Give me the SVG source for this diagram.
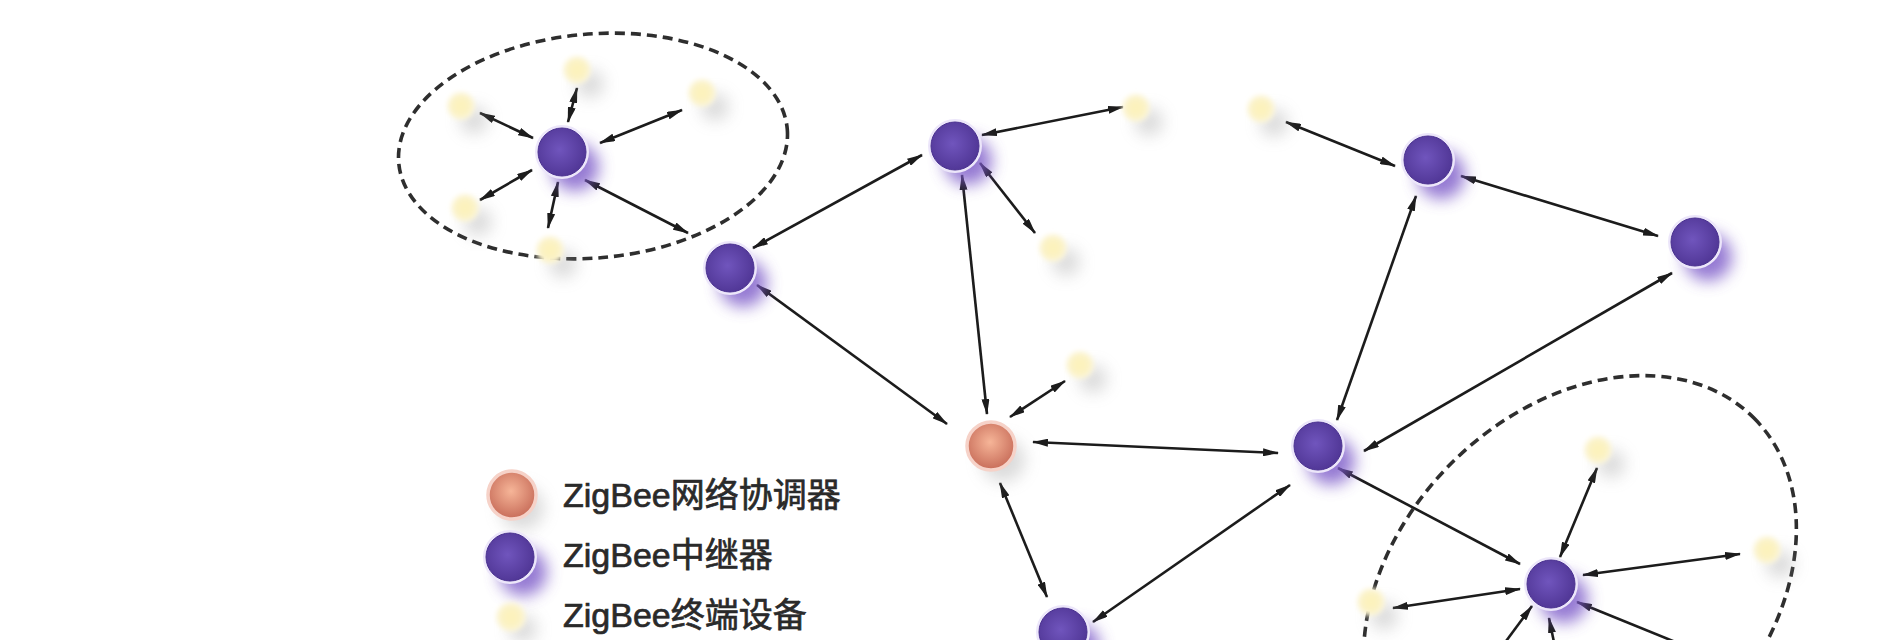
<svg xmlns="http://www.w3.org/2000/svg" width="1884" height="640" viewBox="0 0 1884 640">
<style>
.bg{fill:#ffffff}
.ln{stroke:#1c1c1c;stroke-width:2.6;fill:none;marker-start:url(#ah);marker-end:url(#ah)}
.ln1{stroke:#1c1c1c;stroke-width:2.6;fill:none;marker-start:url(#ah)}
.dash{fill:none;stroke:#2e2e2e;stroke-width:3.6;stroke-dasharray:10 6}
.rsh{fill:#7a58c8;opacity:.8;filter:url(#blur)}
.rhalo{fill:#ece6fa}
.rel{fill:url(#gR);stroke:#4a3190;stroke-width:1}
.esh{fill:#9a9a9a;opacity:.35;filter:url(#blur)}
.end{fill:url(#gE);filter:url(#soft)}
.csh{fill:#9a9a9a;opacity:.35;filter:url(#blur)}
.coo{fill:url(#gC);stroke:#f6d2c8;stroke-width:3.5}
.lbl{font-family:"Liberation Sans","Noto Sans CJK SC",sans-serif;font-size:34px;fill:#2a2a2a;stroke:#2a2a2a;stroke-width:0.7}
</style>
<defs>
<marker id="ah" viewBox="0 0 16 8" refX="15" refY="4" markerWidth="16" markerHeight="8" markerUnits="userSpaceOnUse" orient="auto-start-reverse">
<path d="M0,0 L16,4 L0,8 z" fill="#1c1c1c"/>
</marker>
<filter id="blur" x="-1" y="-1" width="3" height="3"><feGaussianBlur stdDeviation="8"/></filter>
<filter id="soft" x="-1" y="-1" width="3" height="3"><feGaussianBlur stdDeviation="2.5"/></filter>
<radialGradient id="gR" cx="45%" cy="45%" r="60%">
<stop offset="0" stop-color="#7055bd"/><stop offset="1" stop-color="#4f3594"/>
</radialGradient>
<radialGradient id="gE" cx="50%" cy="50%" r="50%">
<stop offset="0" stop-color="#fdf3b8"/><stop offset="0.7" stop-color="#fbf2c6"/><stop offset="1" stop-color="#fdf8e2"/>
</radialGradient>
<radialGradient id="gC" cx="48%" cy="42%" r="60%">
<stop offset="0" stop-color="#f6b598"/><stop offset="1" stop-color="#c66a57"/>
</radialGradient>
</defs>
<rect class="bg" x="0" y="0" width="1884" height="640"/>

<g id="clusters">
<ellipse class="dash" cx="593" cy="146" rx="195" ry="112" transform="rotate(-5 593 146)"/>
<ellipse class="dash" cx="1580" cy="592" rx="246" ry="182" transform="rotate(-45 1580 592)"/>
</g>

<g id="connectors">
<line class="ln" x1="568" y1="122" x2="577" y2="88"/>
<line class="ln" x1="600" y1="143" x2="682" y2="110"/>
<line class="ln" x1="533" y1="138" x2="480" y2="113"/>
<line class="ln" x1="532" y1="170" x2="480" y2="200"/>
<line class="ln" x1="558" y1="182" x2="548" y2="228"/>
<line class="ln" x1="585" y1="180" x2="688" y2="233"/>
<line class="ln" x1="753" y1="248" x2="922" y2="155"/>
<line class="ln" x1="982" y1="135" x2="1123" y2="107"/>
<line class="ln" x1="980" y1="163" x2="1035" y2="233"/>
<line class="ln" x1="962" y1="175" x2="987" y2="414"/>
<line class="ln" x1="757" y1="285" x2="947" y2="424"/>
<line class="ln" x1="1010" y1="417" x2="1065" y2="381"/>
<line class="ln" x1="1033" y1="442" x2="1278" y2="453"/>
<line class="ln" x1="1000" y1="483" x2="1047" y2="597"/>
<line class="ln" x1="1093" y1="622" x2="1290" y2="485"/>
<line class="ln" x1="1286" y1="122" x2="1395" y2="166"/>
<line class="ln" x1="1461" y1="176" x2="1658" y2="236"/>
<line class="ln" x1="1416" y1="196" x2="1337" y2="420"/>
<line class="ln" x1="1672" y1="273" x2="1364" y2="451"/>
<line class="ln" x1="1338" y1="468" x2="1520" y2="564"/>
<line class="ln" x1="1560" y1="557" x2="1597" y2="468"/>
<line class="ln" x1="1583" y1="575" x2="1740" y2="554"/>
<line class="ln" x1="1520" y1="589" x2="1393" y2="608"/>
<line class="ln1" x1="1532" y1="606" x2="1498" y2="652"/>
<line class="ln1" x1="1549" y1="618" x2="1556" y2="652"/>
<line class="ln1" x1="1577" y1="602" x2="1700" y2="652"/>
</g>

<g id="end-devices">
<g id="e1a"><circle class="esh" cx="590" cy="84" r="14"/><circle class="end" cx="577" cy="70" r="14"/></g>
<g id="e1b"><circle class="esh" cx="715" cy="107" r="14"/><circle class="end" cx="702" cy="93" r="14"/></g>
<g id="e1c"><circle class="esh" cx="474" cy="120" r="14"/><circle class="end" cx="461" cy="106" r="14"/></g>
<g id="e1d"><circle class="esh" cx="478" cy="222" r="14"/><circle class="end" cx="465" cy="208" r="14"/></g>
<g id="e1e"><circle class="esh" cx="563" cy="264" r="14"/><circle class="end" cx="550" cy="250" r="14"/></g>
<g id="e3a"><circle class="esh" cx="1149" cy="122" r="14"/><circle class="end" cx="1136" cy="108" r="14"/></g>
<g id="e3b"><circle class="esh" cx="1066" cy="262" r="14"/><circle class="end" cx="1053" cy="248" r="14"/></g>
<g id="ec"><circle class="esh" cx="1093" cy="379" r="14"/><circle class="end" cx="1080" cy="365" r="14"/></g>
<g id="e6"><circle class="esh" cx="1274" cy="123" r="14"/><circle class="end" cx="1261" cy="109" r="14"/></g>
<g id="e2a"><circle class="esh" cx="1611" cy="464" r="14"/><circle class="end" cx="1598" cy="450" r="14"/></g>
<g id="e2b"><circle class="esh" cx="1780" cy="564" r="14"/><circle class="end" cx="1767" cy="550" r="14"/></g>
<g id="e2c"><circle class="esh" cx="1384" cy="616" r="14"/><circle class="end" cx="1371" cy="602" r="14"/></g>
</g>

<g id="routers">
<g id="h1"><circle class="rsh" cx="575" cy="167" r="24"/><circle class="rhalo" cx="562" cy="152" r="27"/><circle class="rel" cx="562" cy="152" r="24"/></g>
<g id="r2"><circle class="rsh" cx="743" cy="283" r="24"/><circle class="rhalo" cx="730" cy="268" r="27"/><circle class="rel" cx="730" cy="268" r="24"/></g>
<g id="r3"><circle class="rsh" cx="968" cy="161" r="24"/><circle class="rhalo" cx="955" cy="146" r="27"/><circle class="rel" cx="955" cy="146" r="24"/></g>
<g id="r4"><circle class="rsh" cx="1331" cy="461" r="24"/><circle class="rhalo" cx="1318" cy="446" r="27"/><circle class="rel" cx="1318" cy="446" r="24"/></g>
<g id="r5"><circle class="rsh" cx="1076" cy="647" r="24"/><circle class="rhalo" cx="1063" cy="632" r="27"/><circle class="rel" cx="1063" cy="632" r="24"/></g>
<g id="r6"><circle class="rsh" cx="1441" cy="175" r="24"/><circle class="rhalo" cx="1428" cy="160" r="27"/><circle class="rel" cx="1428" cy="160" r="24"/></g>
<g id="r7"><circle class="rsh" cx="1708" cy="257" r="24"/><circle class="rhalo" cx="1695" cy="242" r="27"/><circle class="rel" cx="1695" cy="242" r="24"/></g>
<g id="h2"><circle class="rsh" cx="1564" cy="599" r="24"/><circle class="rhalo" cx="1551" cy="584" r="27"/><circle class="rel" cx="1551" cy="584" r="24"/></g>
</g>

<g id="coordinator">
<circle class="csh" cx="1003" cy="460" r="22"/>
<circle class="coo" cx="991" cy="446" r="24"/>
</g>

<g id="legend">
<g id="leg-coord"><circle class="csh" cx="522" cy="508" r="22"/><circle class="coo" cx="512" cy="495" r="24"/><text class="lbl" x="563" y="507">ZigBee网络协调器</text></g>
<g id="leg-router"><circle class="rsh" cx="523" cy="572" r="24"/><circle class="rhalo" cx="510" cy="557" r="27"/><circle class="rel" cx="510" cy="557" r="24"/><text class="lbl" x="563" y="567">ZigBee中继器</text></g>
<g id="leg-end"><circle class="esh" cx="523" cy="629" r="14"/><circle class="end" cx="511" cy="617" r="15"/><text class="lbl" x="563" y="627">ZigBee终端设备</text></g>
</g>
</svg>
